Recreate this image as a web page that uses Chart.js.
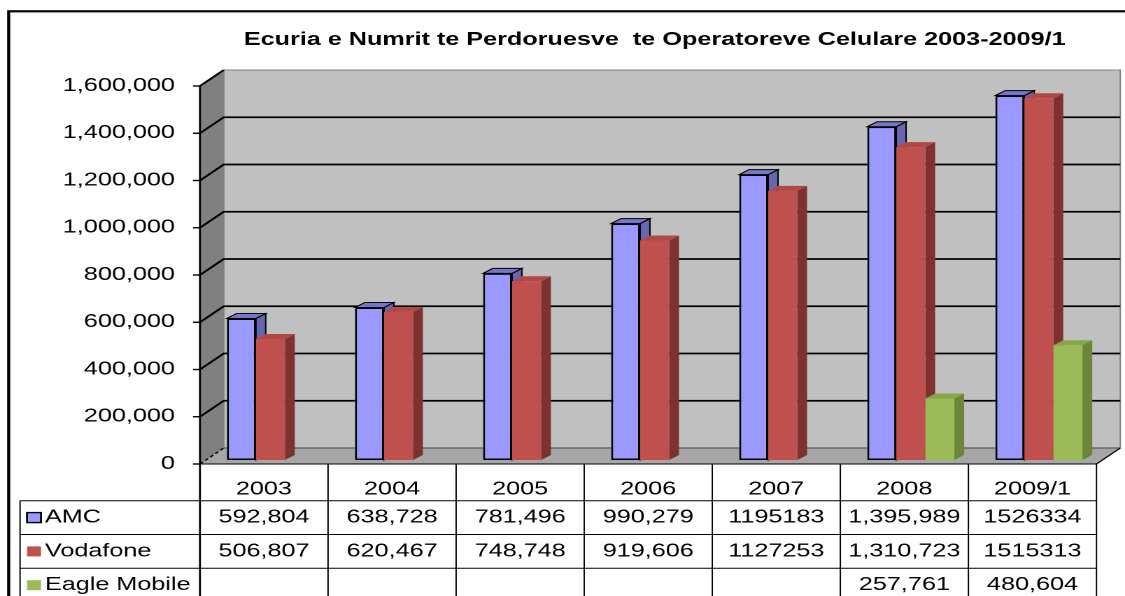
<!DOCTYPE html>
<html>
<head>
<meta charset="utf-8">
<title>Ecuria e Numrit te Perdoruesve</title>
<script src="https://cdn.jsdelivr.net/npm/chart.js@4.4.1/dist/chart.umd.min.js"></script>
<style>
  html, body { margin: 0; padding: 0; background: #fff; overflow: hidden; }
  /* the source picture is stretched sideways, so draw narrow and widen it */
  #wrap { position: absolute; left: 0; top: 0; width: 804px; height: 596px;
          transform: scaleX(1.3993); transform-origin: 0 0; }
</style>
</head>
<body>
<div id="wrap"><canvas id="chart"></canvas></div>
<script>
// data, as printed in the table under the chart
const years = ['2003', '2004', '2005', '2006', '2007', '2008', '2009/1'];
const amcText = ['592,804', '638,728', '781,496', '990,279', '1195183', '1,395,989', '1526334'];
const vodafoneText = ['506,807', '620,467', '748,748', '919,606', '1127253', '1,310,723', '1515313'];
const eagleText = ['', '', '', '', '', '257,761', '480,604'];
const yTicks = [0, 200000, 400000, 600000, 800000, 1000000, 1200000, 1400000, 1600000];

const toNum = s => s === '' ? null : Number(s.replace(/,/g, ''));

const FONT = "'Liberation Sans', Arial, sans-serif";
const DX = 17, DY = -16;    // depth of the walls
const BDX = 7, BDY = -5;    // depth of the bars
const SHIFT = 4.6;          // bars sit a little right of the front frame
const HEAD_H = 36.7, ROW_H = 33.8, KEY_X = 14.3;

const series = [
  { name: 'AMC', text: amcText, front: '#9999ff', top: '#7676c8', side: '#6666b3', edge: '#000' },
  { name: 'Vodafone', text: vodafoneText, front: '#c0504d', top: '#b04946', side: '#7d3230', edge: null },
  { name: 'Eagle Mobile', text: eagleText, front: '#9bbb59', top: '#87a64a', side: '#6b8539', edge: null }
];

function frame(chart) {
  const area = chart.chartArea;
  const y = chart.scales.y;
  const cw = (area.right - area.left) / years.length;
  const fl = area.left - SHIFT;
  return {
    cw, fl, fr: fl + cw * years.length, y,
    top: y.getPixelForValue(yTicks[yTicks.length - 1]),
    base: y.getPixelForValue(yTicks[0])
  };
}

function line(ctx, x1, y1, x2, y2) {
  ctx.beginPath(); ctx.moveTo(x1, y1); ctx.lineTo(x2, y2); ctx.stroke();
}

function poly(ctx, pts, fill, stroke) {
  ctx.beginPath();
  ctx.moveTo(pts[0][0], pts[0][1]);
  for (let i = 1; i < pts.length; i++) ctx.lineTo(pts[i][0], pts[i][1]);
  ctx.closePath();
  ctx.fillStyle = fill; ctx.fill();
  if (stroke) { ctx.strokeStyle = stroke; ctx.lineWidth = 1; ctx.stroke(); }
}

const box3d = {
  id: 'box3d',
  beforeDatasetsDraw(chart) {
    const ctx = chart.ctx;
    const f = frame(chart);
    ctx.save();
    // back wall
    ctx.fillStyle = '#c0c0c0';
    ctx.fillRect(f.fl + DX, f.top + DY, f.fr - f.fl, f.base - f.top);
    ctx.strokeStyle = '#808080'; ctx.lineWidth = 1;
    ctx.strokeRect(f.fl + DX, f.top + DY, f.fr - f.fl, f.base - f.top);
    // side wall and floor
    poly(ctx, [[f.fl, f.top], [f.fl, f.base], [f.fl + DX, f.base + DY], [f.fl + DX, f.top + DY]], '#808080');
    poly(ctx, [[f.fl, f.base], [f.fr, f.base], [f.fr + DX, f.base + DY], [f.fl + DX, f.base + DY]], '#a6a6a6');
    ctx.strokeStyle = '#5a5a5a'; ctx.lineWidth = 1.2;
    line(ctx, f.fl + DX, f.base + DY, f.fr + DX, f.base + DY);
    ctx.strokeStyle = '#000'; ctx.lineWidth = 1.2;
    line(ctx, f.fr, f.base, f.fr + DX, f.base + DY);
    ctx.setLineDash([3, 2]);
    line(ctx, f.fl, f.base, f.fl + DX, f.base + DY);
    ctx.setLineDash([]);
    // grid lines on the side and back walls
    ctx.lineWidth = 1.7;
    yTicks.forEach(v => {
      if (v === 0) return;
      const py = f.y.getPixelForValue(v);
      ctx.beginPath();
      ctx.moveTo(f.fl, py);
      ctx.lineTo(f.fl + DX, py + DY);
      if (v !== yTicks[yTicks.length - 1]) ctx.lineTo(f.fr + DX, py + DY);
      ctx.stroke();
    });
    // tops and sides of the bars, fronts are drawn by chart.js
    series.forEach((s, i) => {
      chart.getDatasetMeta(i).data.forEach((bar, j) => {
        if (chart.data.datasets[i].data[j] == null) return;
        const p = bar.getProps(['x', 'y', 'base', 'width'], true);
        const l = p.x - p.width / 2, r = p.x + p.width / 2;
        poly(ctx, [[r, p.y], [r + BDX, p.y + BDY], [r + BDX, p.base + BDY], [r, p.base]], s.side, s.edge);
        poly(ctx, [[l, p.y], [l + BDX, p.y + BDY], [r + BDX, p.y + BDY], [r, p.y]], s.top, s.edge);
      });
    });
    ctx.restore();
  },
  afterDraw(chart) {
    const ctx = chart.ctx;
    const f = frame(chart);
    const r0 = f.base, r1 = r0 + HEAD_H, r2 = r1 + ROW_H, r3 = r2 + ROW_H, r4 = r3 + ROW_H;
    ctx.save();
    // front axis with its ticks
    ctx.strokeStyle = '#000'; ctx.lineWidth = 1.4;
    line(ctx, f.fl, f.top, f.fl, r4 + 10);
    yTicks.forEach(v => {
      const py = f.y.getPixelForValue(v);
      line(ctx, f.fl - 5, py, f.fl, py);
    });
    // data table
    ctx.lineWidth = 1;
    line(ctx, f.fl, r0, f.fr, r0);
    [r1, r2, r3].forEach(ry => line(ctx, KEY_X, ry, f.fr, ry));
    for (let i = 1; i <= years.length; i++) line(ctx, f.fl + i * f.cw, r0, f.fl + i * f.cw, r4 + 10);
    line(ctx, KEY_X, r1, KEY_X, r4 + 10);

    ctx.fillStyle = '#000';
    ctx.font = '18px ' + FONT;
    ctx.textAlign = 'center';
    ctx.textBaseline = 'middle';
    years.forEach((yr, i) => ctx.fillText(yr, f.fl + (i + 0.5) * f.cw, r0 + 25.7));
    series.forEach((s, k) => {
      const cy = r1 + ROW_H * k + ROW_H / 2;
      s.text.forEach((t, i) => { if (t) ctx.fillText(t, f.fl + (i + 0.5) * f.cw, cy); });
    });
    ctx.textAlign = 'left';
    series.forEach((s, k) => {
      const cy = r1 + ROW_H * k + ROW_H / 2;
      ctx.fillStyle = s.front;
      ctx.fillRect(KEY_X + 5, cy - 5, 10, 10);
      if (s.edge) { ctx.strokeStyle = s.edge; ctx.lineWidth = 1.4; ctx.strokeRect(KEY_X + 5, cy - 5, 10, 10); }
      ctx.fillStyle = '#000';
      ctx.fillText(s.name, KEY_X + 17.8, cy);
    });
    // outer frame
    ctx.strokeStyle = '#000'; ctx.lineWidth = 2.2;
    ctx.strokeRect(6.2, 11.3, 900, 700);
    ctx.restore();
  }
};

const ctx = document.getElementById('chart').getContext('2d');

const subscriberChart = new Chart(ctx, {
  type: 'bar',
  data: {
    labels: years,
    datasets: series.map(s => ({
      label: s.name,
      data: s.text.map(toNum),
      backgroundColor: s.front,
      borderColor: s.edge || s.front,
      borderWidth: s.edge ? 1.5 : 0,
      borderSkipped: false,
      barPercentage: 1,
      categoryPercentage: 0.68,
      yAxisID: 'yb'
    }))
  },
  options: {
    responsive: true,
    maintainAspectRatio: false,
    animation: false,
    devicePixelRatio: 2,
    events: [],
    layout: { padding: { left: 5, right: 15.8, top: 10, bottom: 132 } },
    plugins: {
      legend: { display: false },
      tooltip: { enabled: false },
      title: {
        display: true,
        fullSize: false,
        text: 'Ecuria e Numrit te Perdoruesve  te Operatoreve Celulare 2003-2009/1',
        color: '#000',
        font: { family: FONT, size: 18, weight: 'bold' },
        padding: { top: 19, bottom: 35.4 }
      }
    },
    scales: {
      x: { display: false },
      y: {
        position: 'left',
        min: yTicks[0],
        max: yTicks[yTicks.length - 1],
        ticks: {
          stepSize: yTicks[1] - yTicks[0],
          color: '#000',
          padding: 22.5,
          font: { family: FONT, size: 18 }
        },
        grid: { display: false, drawTicks: false },
        border: { display: false },
        afterFit: scale => { scale.width = 142.5; }
      },
      // bars stand slightly behind the front frame, so they get their own scale
      yb: { display: false, min: -16754, max: 1566492 }
    }
  },
  plugins: [box3d]
});
</script>
</body>
</html>
